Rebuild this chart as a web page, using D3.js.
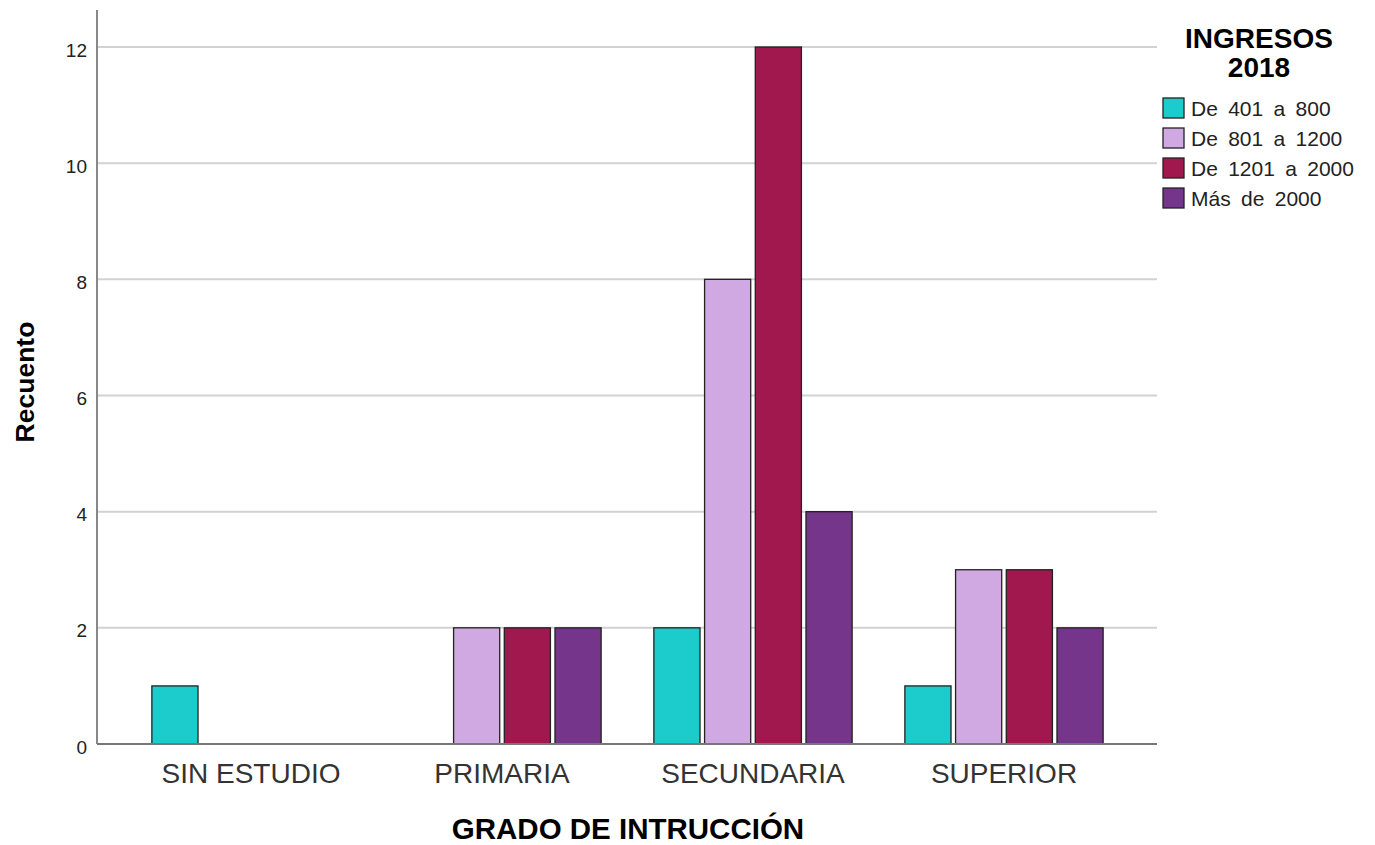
<!DOCTYPE html>
<html>
<head>
<meta charset="utf-8">
<script src="https://cdn.jsdelivr.net/npm/d3@7"></script>
<style>
  body { margin: 0; background: #fff; }
  text { font-family: "Liberation Sans", Arial, sans-serif; }
</style>
</head>
<body>
<svg id="chart" width="1375" height="845"></svg>
<script>
// data
const categories = ["SIN ESTUDIO", "PRIMARIA", "SECUNDARIA", "SUPERIOR"];
const seriesNames = ["De 401 a 800", "De 801 a 1200", "De 1201 a 2000", "Más de 2000"];
const seriesColors = ["#1ccccc", "#d0a9e2", "#a0184e", "#74358a"];
const de401a800 = [1, 0, 2, 1];
const de801a1200 = [0, 2, 8, 3];
const de1201a2000 = [0, 2, 12, 3];
const mas2000 = [0, 2, 4, 2];
const yTicks = [0, 2, 4, 6, 8, 10, 12];

const series = [de401a800, de801a1200, de1201a2000, mas2000];

let svg = d3.select("#chart");
let plotLeft = 97, plotRight = 1157, plotTop = 10, plotBottom = 744;

let yScale = d3.scaleLinear().domain([0, 12]).range([plotBottom, 47]);
let xScale = d3.scaleBand().domain(categories).range([125.5, 1129.5]);
let inner = d3.scaleBand().domain(d3.range(seriesNames.length))
  .range([0, xScale.bandwidth()]).paddingInner(0.09).paddingOuter(0.52);

// gridlines
svg.append("g").selectAll("line").data(yTicks.filter(d => d > 0)).enter().append("line")
  .attr("x1", plotLeft).attr("x2", plotRight)
  .attr("y1", d => yScale(d)).attr("y2", d => yScale(d))
  .style("stroke", "#d2d2d2").style("stroke-width", 2);

// bars
let rows = [];
categories.forEach((c, i) => series.forEach((s, j) => {
  if (s[i] > 0) rows.push({cat: c, k: j, v: s[i]});
}));
svg.append("g").selectAll("rect").data(rows).enter().append("rect")
  .attr("x", d => xScale(d.cat) + inner(d.k))
  .attr("y", d => yScale(d.v))
  .attr("width", inner.bandwidth())
  .attr("height", d => plotBottom - yScale(d.v))
  .style("fill", d => seriesColors[d.k])
  .style("stroke", "#222").style("stroke-width", 1.3);

// y axis
let yAxis = d3.axisLeft(yScale).tickValues(yTicks).tickSize(0).tickPadding(10);
let yg = svg.append("g").attr("transform", "translate(" + plotLeft + ",0)").call(yAxis);
yg.select(".domain").remove();
yg.selectAll("text").style("font-size", "19px").style("fill", "#222")
  .style("font-family", "'Liberation Sans', Arial, sans-serif")
  .attr("dy", "0.48em");
svg.append("line").attr("x1", plotLeft).attr("x2", plotLeft).attr("y1", plotTop).attr("y2", plotBottom)
  .style("stroke", "#888").style("stroke-width", 2);

// x axis
let xAxis = d3.axisBottom(xScale).tickSize(0).tickPadding(18);
let xg = svg.append("g").attr("transform", "translate(0," + plotBottom + ")").call(xAxis);
xg.select(".domain").remove();
xg.selectAll("text").style("font-size", "28px").style("fill", "#333")
  .style("font-family", "'Liberation Sans', Arial, sans-serif")
  .attr("y", 39).attr("dy", 0);
svg.append("line").attr("x1", plotLeft).attr("x2", plotRight).attr("y1", plotBottom).attr("y2", plotBottom)
  .style("stroke", "#777").style("stroke-width", 2);

// axis titles
svg.append("text").attr("x", 628).attr("y", 839).attr("text-anchor", "middle")
  .style("font-size", "29.5px").style("font-weight", "bold").text("GRADO DE INTRUCCIÓN");
svg.append("text").attr("transform", "translate(34,382) rotate(-90)").attr("text-anchor", "middle")
  .style("font-size", "26.5px").style("font-weight", "bold").text("Recuento");

// legend
svg.append("text").attr("x", 1259).attr("y", 48).attr("text-anchor", "middle")
  .style("font-size", "28px").style("font-weight", "bold").text("INGRESOS");
svg.append("text").attr("x", 1259).attr("y", 77).attr("text-anchor", "middle")
  .style("font-size", "28px").style("font-weight", "bold").text("2018");
let lg = svg.append("g").selectAll("g").data(seriesNames).enter().append("g")
  .attr("transform", (d, i) => "translate(1163," + (98 + i * 30) + ")");
lg.append("rect").attr("width", 21).attr("height", 20)
  .style("fill", (d, i) => seriesColors[i]).style("stroke", "#222").style("stroke-width", 1.3);
lg.append("text").attr("x", 28).attr("y", 18).style("font-size", "21px").style("fill", "#222")
  .style("word-spacing", "4.5px")
  .text(d => d);
</script>
</body>
</html>
